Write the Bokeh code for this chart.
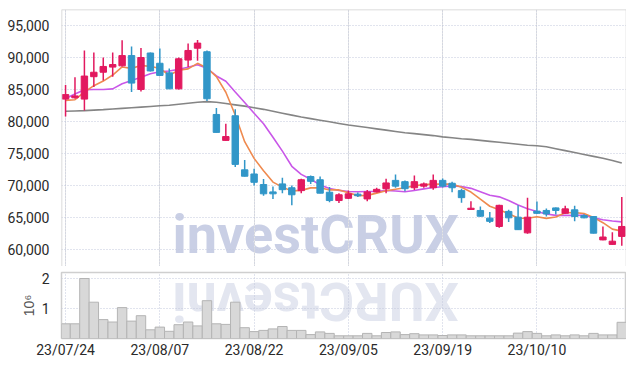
import math
from bokeh.plotting import figure
from bokeh.layouts import column
from bokeh.models import (ColumnDataSource, Range1d, FixedTicker, NumeralTickFormatter,
                          Grid, Label, Span)
from bokeh.embed import file_html
from bokeh.resources import INLINE

# ---- data (trading-day index 0..59, 23/07/24 .. 23/10/23) ----
tick_idx = [0, 10, 20, 30, 40, 50]
tick_labels = ["23/07/24", "23/08/07", "23/08/22", "23/09/05", "23/09/19", "23/10/10"]

opens = [83500, 83700, 83500, 87000, 87700, 88500, 88700, 90300, 85000, 90700,
         89100, 87600, 85100, 89600, 91450, 90900, 81100, 77050, 80900, 72450,
         71800, 70150, 69000, 70250, 69650, 69200, 71400, 70900, 68950, 67650,
         68000, 68650, 67900, 69000, 69500, 70800, 70600, 69650, 69900, 69650,
         70800, 70350, 69200, 66250, 66100, 64900, 63600, 65950, 65050, 62600,
         66000, 66100, 66500, 65650, 66200, 65300, 65150, 61500, 60800, 62050]
highs = [85700, 86900, 91100, 90800, 90000, 90800, 92700, 91700, 91500, 90800,
         91400, 88300, 90000, 92200, 92750, 91100, 82100, 79650, 81900, 74000,
         72600, 71000, 69850, 71200, 70000, 71050, 71550, 71400, 69750, 68800,
         69200, 68900, 69300, 69650, 71050, 71700, 70800, 71550, 70450, 71700,
         71100, 70600, 69500, 67550, 66700, 65850, 67000, 66200, 66900, 68100,
         67500, 66400, 66550, 66850, 66850, 65500, 65200, 63600, 62700, 68200]
lows = [80800, 83600, 81700, 85400, 86400, 87000, 88600, 84600, 84700, 87800,
        87100, 85100, 85000, 88500, 89500, 83200, 78300, 77000, 72900, 71400,
        70000, 68400, 67900, 68800, 66900, 68800, 70250, 68800, 67400, 67250,
        67900, 68200, 67550, 68900, 68800, 69650, 69100, 69300, 69650, 69350,
        69700, 68950, 67300, 66200, 65100, 64150, 63400, 64300, 63100, 62450,
        65550, 65150, 65450, 65600, 64400, 64900, 62500, 61450, 60750, 60600]
closes = [84200, 84000, 87100, 87700, 88600, 88900, 90300, 86000, 90000, 87900,
          87200, 85100, 89800, 91100, 92250, 83550, 78300, 77650, 73300, 71450,
          70500, 68700, 68700, 69350, 68550, 70900, 70650, 68800, 67650, 68550,
          68700, 68400, 69000, 69400, 70400, 69900, 69500, 70600, 70250, 70800,
          69900, 69650, 68100, 66450, 65200, 64400, 66900, 64950, 63100, 65050,
          65650, 65550, 66100, 66350, 65150, 64950, 62550, 61950, 61300, 63600]
ma5 = [83300, 83400, 84600, 85600, 86320, 87260, 88520, 88300, 88760, 88620,
       88280, 87240, 88000, 88220, 89090, 88360, 87000, 84570, 81010, 76850,
       74240, 72320, 70530, 69740, 69160, 69240, 69630, 69650, 69310, 69310,
       68870, 68420, 68460, 68810, 69180, 69420, 69640, 69960, 70130, 70210,
       70210, 70240, 69740, 68980, 67860, 66760, 66210, 65580, 64910, 64880,
       65130, 64860, 65090, 65740, 65760, 65620, 65020, 64190, 63180, 62870]
ma10 = [83600, 84300, 84950, 85000, 85000, 85100, 85900, 86400, 86900, 87470,
        87770, 87880, 88150, 88490, 88855, 88320, 87120, 86285, 84615, 82970,
        81300, 79660, 77550, 75375, 73005, 71740, 70975, 70090, 69525, 69235,
        69055, 69025, 69055, 69060, 69245, 69145, 69030, 69210, 69470, 69695,
        69815, 69940, 69850, 69555, 69035, 68485, 68225, 67660, 66945, 66370,
        65945, 65535, 65335, 65325, 65320, 65375, 64940, 64640, 64460, 64315]
ma_long = [81600, 81650, 81700, 81780, 81850, 81950, 82050, 82150, 82250, 82350,
           82450, 82550, 82700, 82850, 83000, 83100, 83000, 82800, 82600, 82400,
           82150, 81900, 81600, 81300, 81000, 80700, 80450, 80200, 79950, 79700,
           79450, 79250, 79050, 78850, 78650, 78450, 78250, 78100, 77950, 77800,
           77600, 77450, 77300, 77200, 77050, 76900, 76750, 76600, 76450, 76300,
           76200, 76050, 75750, 75450, 75150, 74850, 74550, 74250, 73900, 73500]
volumes = [490000, 490000, 2000000, 1210000, 630000, 550000, 1030000, 580000, 760000, 290000,
           380000, 240000, 460000, 550000, 420000, 1260000, 490000, 470000, 1210000, 360000,
           230000, 270000, 320000, 400000, 270000, 270000, 130000, 220000, 170000, 90000,
           90000, 90000, 170000, 90000, 200000, 220000, 130000, 160000, 120000, 120000,
           100000, 120000, 120000, 90000, 90000, 90000, 90000, 90000, 180000, 230000,
           170000, 90000, 120000, 90000, 120000, 90000, 170000, 120000, 120000, 540000]
price_ticks = [60000, 65000, 70000, 75000, 80000, 85000, 90000, 95000]
vol_ticks = [1000000, 2000000]
vol_tick_labels = ["1", "2"]

RED = "#e2195f"
BLUE = "#3196c8"
GRID = "#c3c8dd"
EDGE = "#cfcfcf"
FONT = "Roboto"

idx = list(range(len(closes)))
colors = [RED if c >= o else BLUE for o, c in zip(opens, closes)]
src = ColumnDataSource(dict(
    x=idx, o=opens, h=highs, l=lows, c=closes,
    top=[max(o, c) for o, c in zip(opens, closes)],
    bot=[min(o, c) for o, c in zip(opens, closes)],
    color=colors, ma5=ma5, ma10=ma10, mal=ma_long, vol=volumes))

X0, X1 = -0.43, 59.5
xr = Range1d(X0, X1)
PY0, PY1 = 57344, 97500

# ---- price panel ----
p = figure(frame_width=565, frame_height=257, x_range=xr, y_range=Range1d(PY0, PY1),
           output_backend="svg", toolbar_location=None, x_axis_location=None,
           min_border_left=61, min_border_right=0, min_border_top=9, min_border_bottom=0,
           background_fill_color="white", border_fill_color="white")
p.outline_line_color = None
for loc, dim in [(PY1, "width"), (X0, "height"), (X1, "height")]:
    p.add_layout(Span(location=loc, dimension=dim, line_color=EDGE, line_width=1.5))
p.yaxis.ticker = FixedTicker(ticks=price_ticks)
p.yaxis.formatter = NumeralTickFormatter(format="0,0")
p.yaxis.axis_line_color = None
p.yaxis.major_tick_line_color = None
p.yaxis.minor_tick_line_color = None
p.yaxis.major_label_standoff = 6
p.yaxis.major_label_text_font = FONT
p.yaxis.major_label_text_font_size = "14px"
p.yaxis.major_label_text_color = "#2a2a2a"
p.ygrid.ticker = FixedTicker(ticks=price_ticks)
p.ygrid.grid_line_color = GRID
p.ygrid.grid_line_dash = "1 2"
p.add_layout(Grid(dimension=0, ticker=FixedTicker(ticks=tick_idx),
                  grid_line_color=GRID, grid_line_dash="1 2"))

p.add_layout(Label(x=11.35, y=PY0 + 150, text="investCRUX", text_font="Roboto",
                   text_font_style="bold", text_font_size="54px",
                   text_color="#c9cfe5", level="image"))

p.line("x", "mal", source=src, line_color="#858585", line_width=1.6)
p.line("x", "ma10", source=src, line_color="#c957e8", line_width=1.6)
p.line("x", "ma5", source=src, line_color="#ef8a4f", line_width=1.6)
p.segment("x", "h", "x", "l", source=src, line_color="color", line_width=1.5)
p.vbar(x="x", top="top", bottom="bot", width=0.68, source=src,
       fill_color="color", line_color="color", line_width=1)

# ---- volume panel ----
v = figure(frame_width=565, frame_height=66, x_range=xr, y_range=Range1d(0, 2.2e6),
           output_backend="svg", toolbar_location=None,
           min_border_left=61, min_border_right=0, min_border_top=6, min_border_bottom=0,
           background_fill_color="white", border_fill_color="white")
v.outline_line_color = EDGE
v.outline_line_width = 1.5
v.add_layout(Label(x=41.7, y=2.3e6, text="XURCtsevni", text_font="Roboto",
                   text_font_style="bold", text_font_size="54px", angle=math.pi,
                   text_color="#e3e6f0", level="image"))
v.vbar(x="x", top="vol", bottom=0, width=1.0, source=src,
       fill_color="#d8d8d8", line_color="#b4b4b4", line_width=1)
v.yaxis.ticker = FixedTicker(ticks=vol_ticks)
v.yaxis.major_label_overrides = dict(zip(vol_ticks, vol_tick_labels))
v.yaxis.axis_line_color = None
v.yaxis.major_tick_line_color = None
v.yaxis.minor_tick_line_color = None
v.yaxis.major_label_standoff = 6
v.yaxis.major_label_text_font = FONT
v.yaxis.major_label_text_font_size = "14px"
v.yaxis.major_label_text_color = "#2a2a2a"
v.yaxis.axis_label = "10\u2076"
v.yaxis.axis_label_standoff = 2
v.yaxis.axis_label_text_font = "Liberation Sans"
v.yaxis.axis_label_text_font_style = "normal"
v.yaxis.axis_label_text_font_size = "14px"
v.yaxis.axis_label_text_color = "#555555"
v.ygrid.ticker = FixedTicker(ticks=vol_ticks)
v.ygrid.grid_line_color = GRID
v.ygrid.grid_line_dash = "1 2"
v.xaxis.ticker = FixedTicker(ticks=tick_idx)
v.xaxis.major_label_overrides = dict(zip(tick_idx, tick_labels))
v.xaxis.axis_line_color = None
v.xaxis.major_tick_line_color = None
v.xaxis.minor_tick_line_color = None
v.xaxis.major_label_standoff = -3
v.xaxis.major_label_text_font = FONT
v.xaxis.major_label_text_font_size = "14px"
v.xaxis.major_label_text_color = "#2a2a2a"
v.xgrid.ticker = FixedTicker(ticks=tick_idx)
v.xgrid.grid_line_color = GRID
v.xgrid.grid_line_dash = "1 2"

layout = column(p, v, spacing=0)
open("out.html", "w").write(file_html(layout, INLINE))
